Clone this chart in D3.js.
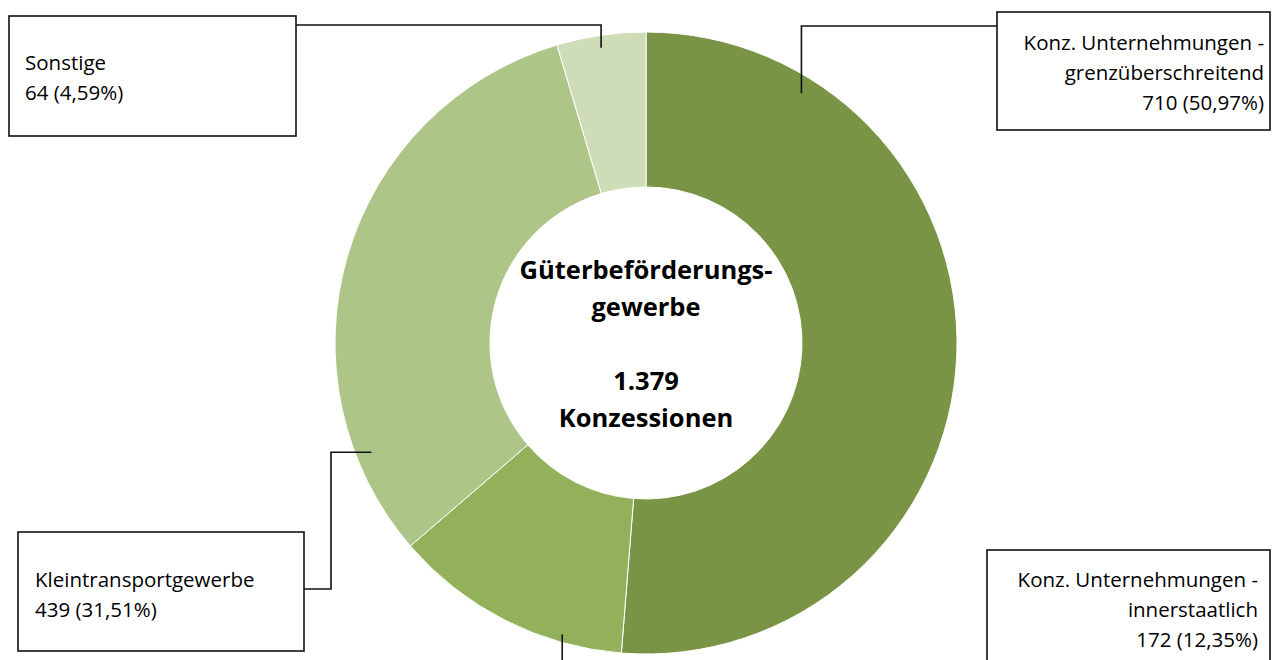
<!DOCTYPE html>
<html>
<head>
<meta charset="utf-8">
<script src="https://cdn.jsdelivr.net/npm/d3@7"></script>
<style>
  body { margin: 0; background: #fff; }
  svg { display: block; }
  text { font-family: "Open Sans", "Noto Sans", sans-serif; fill: #000; }
</style>
</head>
<body>
<div id="chart"></div>
<script>
// Data
var categories = [
  ['Konz. Unternehmungen -', 'grenzüberschreitend'],
  ['Konz. Unternehmungen -', 'innerstaatlich'],
  ['Kleintransportgewerbe'],
  ['Sonstige']
];
var values = [710, 172, 439, 64];
var percents = [50.97, 12.35, 31.51, 4.59];
var centerTitle = ['Güterbeförderungs-', 'gewerbe', '', '1.379', 'Konzessionen'];

var colors = ['#7a9445', '#93b05a', '#adc688', '#cedcb8'];

var width = 1272;
var height = 660;
var cx = 646, cy = 343;
var outerR = 311, innerR = 156;

// label box layout (box, text anchor, leader shape)
var labelLayout = [
  { box: [997, 12, 273, 118], tx: 1264, ty: 50, align: 'end',
    frac: 0.173, rr: 0.945, leader: 'top', from: [997, 26] },
  { box: [987, 550, 283, 130], tx: 1258, ty: 587, align: 'end',
    frac: 0.257, rr: 0.975, leader: 'bottom', from: [null, 670] },
  { box: [18, 532, 286, 119], tx: 35, ty: 587, align: 'start',
    frac: 0.167, rr: 0.95, leader: 'elbow', from: [304, 589], elbowX: 331 },
  { box: [9, 16, 287, 120], tx: 25, ty: 70, align: 'start',
    frac: 0.48, rr: 0.96, leader: 'top', from: [296, 25] }
];

var svg = d3.select('#chart').append('svg')
  .attr('width', width)
  .attr('height', height);

var pie = d3.pie().sort(null).value(function (d) { return d; });
var arcs = pie(values);

var arc = d3.arc().innerRadius(innerR).outerRadius(outerR);

var g = svg.append('g').attr('transform', 'translate(' + cx + ',' + cy + ')');

g.selectAll('path.slice')
  .data(arcs)
  .enter().append('path')
  .attr('class', 'slice')
  .attr('d', arc)
  .attr('fill', function (d, i) { return colors[i]; })
  .attr('stroke', '#fff')
  .attr('stroke-width', 1);

// centre text
g.append('text')
  .attr('text-anchor', 'middle')
  .style('font-weight', 'bold')
  .style('font-size', '25.5px')
  .selectAll('tspan')
  .data(centerTitle)
  .enter().append('tspan')
  .attr('x', 0)
  .attr('y', function (d, i) { return 279 - cy + i * 37; })
  .text(function (d) { return d; });

// leaders and label boxes
var fmt = function (p) { return p.toFixed(2).replace('.', ',') + '%'; };

arcs.forEach(function (a, i) {
  var L = labelLayout[i];
  var ang = a.startAngle + L.frac * (a.endAngle - a.startAngle);
  var ex = cx + Math.sin(ang) * outerR * L.rr;
  var ey = cy - Math.cos(ang) * outerR * L.rr;

  var pts;
  if (L.leader === 'top') {
    pts = [[L.from[0], L.from[1]], [ex, L.from[1]], [ex, ey]];
  } else if (L.leader === 'bottom') {
    pts = [[ex, L.from[1]], [ex, ey]];
  } else {
    pts = [[L.from[0], L.from[1]], [L.elbowX, L.from[1]], [L.elbowX, ey], [ex, ey]];
  }
  svg.append('path')
    .attr('d', d3.line()(pts))
    .attr('fill', 'none')
    .attr('stroke', '#111')
    .attr('stroke-width', 1.6);

  svg.append('rect')
    .attr('x', L.box[0]).attr('y', L.box[1])
    .attr('width', L.box[2]).attr('height', L.box[3])
    .attr('fill', '#fff')
    .attr('stroke', '#111')
    .attr('stroke-width', 1.6);

  var lines = categories[i].concat([values[i] + ' (' + fmt(percents[i]) + ')']);
  svg.append('text')
    .attr('text-anchor', L.align)
    .style('font-size', '20.5px')
    .selectAll('tspan')
    .data(lines)
    .enter().append('tspan')
    .attr('x', L.tx)
    .attr('y', function (d, j) { return L.ty + j * 30; })
    .text(function (d) { return d; });
});
</script>
</body>
</html>
